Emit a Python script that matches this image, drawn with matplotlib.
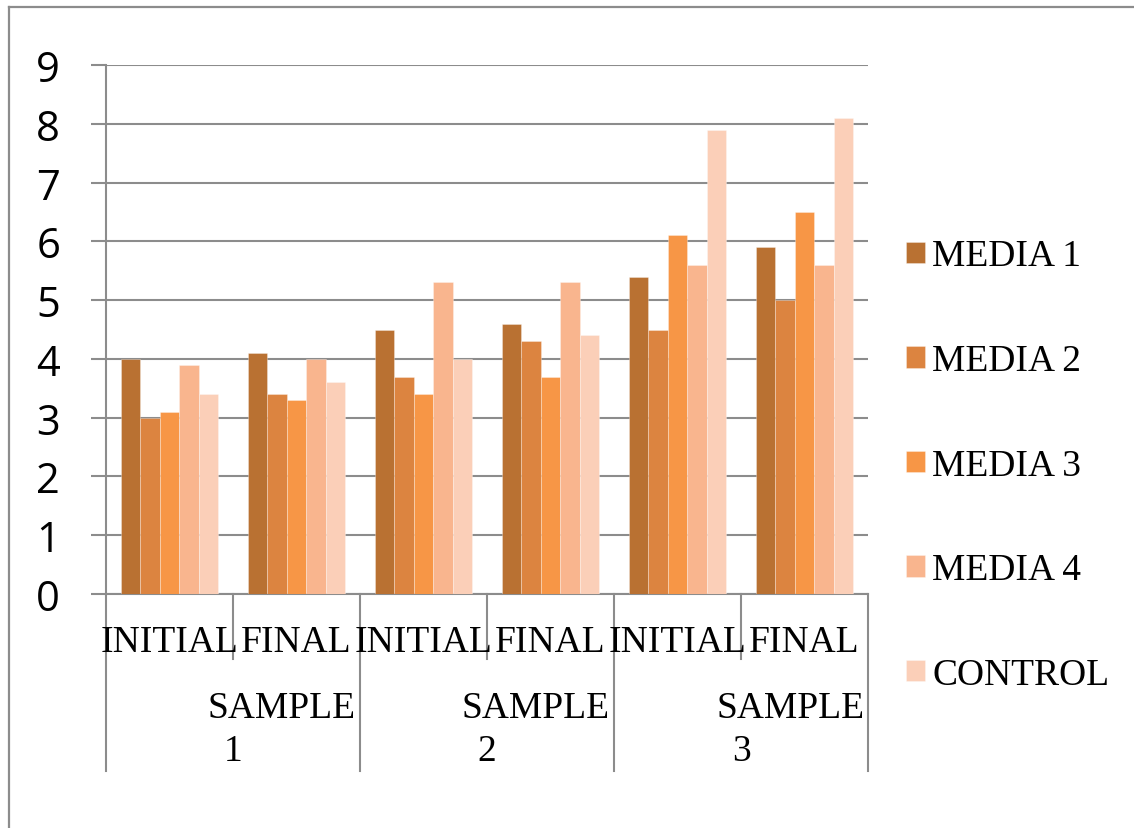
import numpy as np
import matplotlib
matplotlib.use("Agg")
import matplotlib.pyplot as plt
from matplotlib.lines import Line2D

# --- data -----------------------------------------------------------------
phases = ["INITIAL", "FINAL", "INITIAL", "FINAL", "INITIAL", "FINAL"]
samples = ["1", "2", "3"]
series = ["MEDIA 1", "MEDIA 2", "MEDIA 3", "MEDIA 4", "CONTROL"]

media1 = [4.0, 4.1, 4.5, 4.6, 5.4, 5.9]
media2 = [3.0, 3.4, 3.7, 4.3, 4.5, 5.0]
media3 = [3.1, 3.3, 3.4, 3.7, 6.1, 6.5]
media4 = [3.9, 4.0, 5.3, 5.3, 5.6, 5.6]
control = [3.4, 3.6, 4.0, 4.4, 7.9, 8.1]

colors = ["#B97132", "#DC8440", "#F79646", "#F9B58E", "#FBCFB8"]
GRID = "#8C8C8C"

W, H = 1134, 829
fig = plt.figure(figsize=(W / 100, H / 100), dpi=100)
ax_l, ax_r, ax_t, ax_b = 106, 868, 66, 595
ax = fig.add_axes([ax_l / W, 1 - ax_b / H, (ax_r - ax_l) / W, (ax_b - ax_t) / H])
ax_h = ax_b - ax_t
cat_px = (ax_r - ax_l) / len(phases)

x = np.arange(len(phases))
bw = 0.154
values = [media1, media2, media3, media4, control]
handles = []
for i, (vals, c, name) in enumerate(zip(values, colors, series)):
    b = ax.bar(x + (i - 2) * bw, vals, bw, color=c, label=name, zorder=3,
               edgecolor=(1, 1, 1, 0.35), linewidth=0.6)
    handles.append(b)

ax.set_xlim(-0.5, len(phases) - 0.5)
ax.set_ylim(0, 9)
ax.set_yticks(range(10))
ax.yaxis.grid(True, color=GRID, linewidth=1.5, zorder=0)
ax.set_axisbelow(True)
for s in ["top", "right"]:
    ax.spines[s].set_visible(False)
for s in ["left", "bottom"]:
    ax.spines[s].set_color(GRID)
    ax.spines[s].set_linewidth(1.5)
ax.tick_params(axis="y", direction="out", length=11, width=1.5, color=GRID,
               pad=22, labelsize=30)
for t in ax.get_yticklabels():
    t.set_fontfamily("Open Sans")
ax.set_xticks([])

# category separators and labels (two-level axis)
tr = ax.get_xaxis_transform()
for k in range(len(phases) + 1):
    xb = k - 0.5
    depth = 177 if k % 2 == 0 else 65
    ax.add_line(Line2D([xb, xb], [0, -depth / ax_h], transform=tr,
                       color=GRID, linewidth=1.5, clip_on=False))

serif = "Liberation Serif"
for xi, lab in zip(x, phases):
    ax.text(xi, -48 / ax_h, lab, transform=tr, ha="center", va="center",
            fontsize=27, family=serif)
for g, s in enumerate(samples):
    gc = 2 * g + 0.5
    ax.text(gc - 25 / cat_px, -114 / ax_h, "SAMPLE", transform=tr, ha="left",
            va="center", fontsize=27, family=serif)
    ax.text(gc, -157 / ax_h, s, transform=tr, ha="center", va="center",
            fontsize=27, family=serif)

leg = fig.legend(handles=handles, labels=series, loc="upper left",
                 bbox_to_anchor=(906 / W, 1 - 240 / H), frameon=False,
                 prop={"family": serif, "size": 27}, borderpad=0,
                 borderaxespad=0, handlelength=0.5, handleheight=0.5,
                 handletextpad=0.2, labelspacing=1.87)

# chart area border (left and top edges)
fig.add_artist(Line2D([9 / W, 9 / W], [0, 1 - 8 / H], color=GRID, linewidth=1.6))
fig.add_artist(Line2D([9 / W, 1], [1 - 8 / H, 1 - 8 / H], color=GRID, linewidth=1.6))

fig.savefig("out.png", dpi=100)
